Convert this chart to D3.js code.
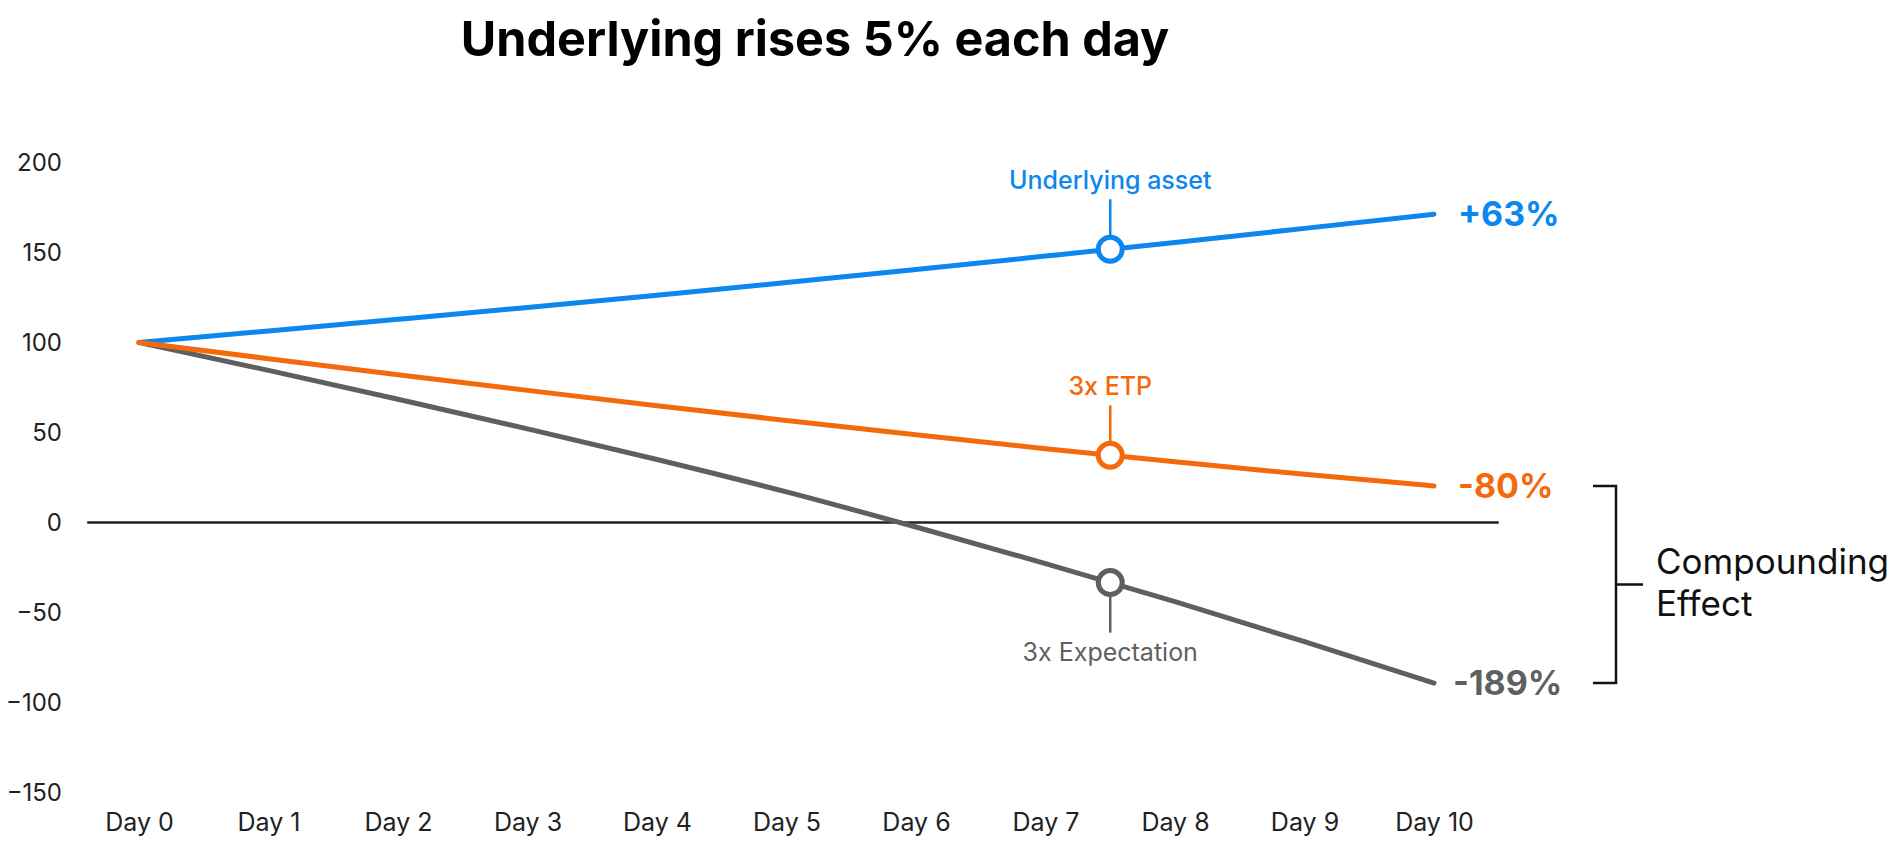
<!DOCTYPE html>
<html>
<head>
<meta charset="utf-8">
<script src="https://cdn.jsdelivr.net/npm/d3@7"></script>
<style>
  html, body { margin: 0; padding: 0; background: #fff; }
  #chart { width: 1895px; height: 844px; overflow: hidden; }
  text { font-family: Inter, "Noto Sans", sans-serif; }
</style>
</head>
<body>
<div id="chart"></div>
<script>
// values
const days = [0, 1, 2, 3, 4, 5, 6, 7, 8, 9, 10];
const dayLabels = ["Day 0", "Day 1", "Day 2", "Day 3", "Day 4", "Day 5", "Day 6", "Day 7", "Day 8", "Day 9", "Day 10"];
const underlying = [100, 106.4, 112.9, 119.5, 126.3, 133.3, 140.5, 148.0, 155.6, 163.4, 171.3];
const etp = [100, 91.0, 82.1, 73.4, 64.9, 56.7, 48.7, 41.0, 33.7, 26.8, 20.3];
const expectation = [100, 84.5, 68.5, 52.0, 35.0, 17.0, -2.5, -22.8, -44.0, -66.2, -89.2];
const yTicks = [200, 150, 100, 50, 0, -50, -100, -150];

const seriesNames = ["Underlying asset", "3x ETP", "3x Expectation"];
const endLabels = ["+63%", "-80%", "-189%"];
const markerDay = 7.5;

const colors = {blue: "#0b87ee", orange: "#f4690c", gray: "#5f5f5f", ink: "#222"};

const svg = d3.select("#chart").append("svg")
    .attr("width", 1895)
    .attr("height", 844);

const x = d3.scaleLinear().domain([0, 10]).range([139, 1434]);
const y = d3.scaleLinear().domain([-150, 200]).range([792.5, 162.5]);

// title
svg.append("text")
    .attr("x", 815)
    .attr("y", 55.5)
    .attr("text-anchor", "middle")
    .style("font-size", "48.5px")
    .style("font-weight", 700)
    .style("fill", "#000")
    .text("Underlying rises 5% each day");

// y axis labels (no domain, no ticks)
const yAxis = svg.append("g")
    .attr("transform", "translate(62,0)")
    .call(d3.axisLeft(y).tickValues(yTicks).tickSize(0).tickPadding(0).tickFormat(d3.format("d")));
yAxis.select(".domain").remove();
yAxis.selectAll("text")
    .style("font-family", "Inter, sans-serif")
    .style("font-size", "24px")
    .style("fill", colors.ink);

// x axis labels
const xAxis = svg.append("g")
    .attr("transform", "translate(0,813)")
    .call(d3.axisBottom(x).tickValues(days).tickSize(0).tickPadding(0).tickFormat(d => dayLabels[d]));
xAxis.select(".domain").remove();
xAxis.selectAll("text")
    .style("font-family", "Inter, sans-serif")
    .style("font-size", "25px")
    .style("fill", colors.ink);

// zero line
svg.append("line")
    .attr("x1", x(-0.4))
    .attr("x2", x(10.5))
    .attr("y1", y(0))
    .attr("y2", y(0))
    .attr("stroke", colors.ink)
    .attr("stroke-width", 2.5);

const line = d3.line()
    .x((d, i) => x(days[i]))
    .y(d => y(d))
    .curve(d3.curveMonotoneX);

const series = [
    {name: seriesNames[2], values: expectation, color: colors.gray, end: endLabels[2], below: true, gap: 19},
    {name: seriesNames[0], values: underlying, color: colors.blue, end: endLabels[0], below: false, gap: 24},
    {name: seriesNames[1], values: etp, color: colors.orange, end: endLabels[1], below: false, gap: 24}
];

series.forEach(s => {
    svg.append("path")
        .datum(s.values)
        .attr("d", line)
        .attr("fill", "none")
        .attr("stroke", s.color)
        .attr("stroke-width", 5)
        .attr("stroke-linecap", "round")
        .attr("stroke-linejoin", "round");
});

series.forEach(s => {
    // marker sits half way between day 7 and day 8
    const i0 = Math.floor(markerDay);
    const v = s.values[i0] + (s.values[i0 + 1] - s.values[i0]) * (markerDay - i0);
    const cx = x(markerDay), cy = y(v);
    const dir = s.below ? 1 : -1;

    svg.append("line")
        .attr("x1", cx).attr("x2", cx)
        .attr("y1", cy + dir * 14).attr("y2", cy + dir * 50)
        .attr("stroke", s.color)
        .attr("stroke-width", 2.5);

    svg.append("circle")
        .attr("cx", cx)
        .attr("cy", cy)
        .attr("r", 12)
        .attr("fill", "#fff")
        .attr("stroke", s.color)
        .attr("stroke-width", 5);

    svg.append("text")
        .attr("x", cx)
        .attr("y", s.below ? cy + 78 : cy - 60)
        .attr("text-anchor", "middle")
        .style("font-size", "25px")
        .style("font-weight", s.below ? 400 : 500)
        .style("fill", s.color)
        .text(s.name);

    // end of line percentage
    svg.append("text")
        .attr("x", x(10) + s.gap)
        .attr("y", y(s.values[10]))
        .attr("dy", "0.36em")
        .style("font-size", "34px")
        .style("font-weight", 700)
        .style("fill", s.color)
        .text(s.end);
});

// bracket between ETP and expectation end values
const yTop = y(etp[10]), yBot = y(expectation[10]), yMid = (yTop + yBot) / 2;
svg.append("path")
    .attr("d", `M1593,${yTop}H1616V${yBot}H1593M1616,${yMid}H1643`)
    .attr("fill", "none")
    .attr("stroke", "#111")
    .attr("stroke-width", 2.5);

const note = svg.append("text")
    .attr("x", 1656)
    .attr("y", yMid - 11)
    .style("font-size", "35px")
    .style("fill", "#111");
note.append("tspan").attr("x", 1656).text("Compounding");
note.append("tspan").attr("x", 1656).attr("dy", 42).text("Effect");
</script>
</body>
</html>
